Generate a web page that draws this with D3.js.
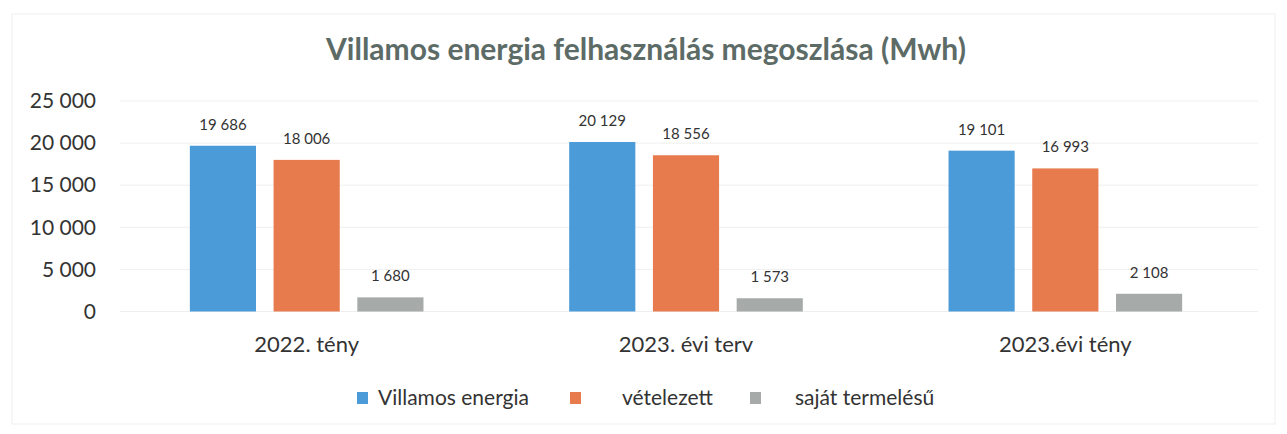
<!DOCTYPE html>
<html>
<head>
<meta charset="utf-8">
<script src="https://cdn.jsdelivr.net/npm/d3@7"></script>
<style>
  body { margin: 0; background: #fff; }
  text { font-family: Lato, "Open Sans", sans-serif; }
</style>
</head>
<body>
<div id="chart"></div>
<script>
const categories = ["2022. tény", "2023. évi terv", "2023.évi tény"];
const seriesNames = ["Villamos energia", "vételezett", "saját termelésű"];
const villamos = [19686, 20129, 19101];
const vetelezett = [18006, 18556, 16993];
const sajat = [1680, 1573, 2108];
const yTicks = [0, 5000, 10000, 15000, 20000, 25000];
const colors = ["#4b9bd8", "#e77b4e", "#a6aaa9"];

const width = 1287;
const height = 434;

const svg = d3.select("#chart")
    .append("svg")
    .attr("width", width)
    .attr("height", height);

// faint frame like the scanned box
svg.append("rect")
    .attr("x", 12).attr("y", 14)
    .attr("width", width - 24).attr("height", height - 24)
    .attr("fill", "none")
    .attr("stroke", "#efefef");

const fmt = v => d3.format(",")(v).replace(/,/g, " ");

const x = d3.scaleBand()
    .domain(categories)
    .range([117, 1255]);

const x1 = d3.scaleBand()
    .domain(seriesNames)
    .range([0, x.bandwidth()])
    .paddingInner(0.21)
    .paddingOuter(0.87);

const y = d3.scaleLinear()
    .domain([0, 25000])
    .range([311.5, 101]);

// gridlines
svg.append("g")
    .selectAll("line")
    .data(yTicks)
    .join("line")
    .attr("x1", 120).attr("x2", 1258)
    .attr("y1", d => y(d)).attr("y2", d => y(d))
    .attr("stroke", "#efefef");

// y axis labels
const yAxis = d3.axisLeft(y).tickValues(yTicks).tickFormat(fmt).tickSize(0).tickPadding(0);
svg.append("g")
    .attr("transform", "translate(96,0)")
    .call(yAxis)
    .call(g => g.select(".domain").remove())
    .selectAll("text")
    .attr("font-size", 21)
    .attr("fill", "#333")
    .style("font-family", "Lato, sans-serif");

// x axis labels
const xAxis = d3.axisBottom(x).tickSize(0).tickPadding(0);
svg.append("g")
    .attr("transform", "translate(0,336)")
    .call(xAxis)
    .call(g => g.select(".domain").remove())
    .selectAll("text")
    .attr("font-size", 22)
    .attr("fill", "#333")
    .style("font-family", "Lato, sans-serif");

const series = [villamos, vetelezett, sajat];
const rows = [];
series.forEach((vals, si) => {
    vals.forEach((v, ci) => rows.push({ cat: categories[ci], name: seriesNames[si], si, v }));
});

svg.append("g")
    .selectAll("rect")
    .data(rows)
    .join("rect")
    .attr("x", d => x(d.cat) + x1(d.name))
    .attr("width", x1.bandwidth())
    .attr("y", d => y(d.v))
    .attr("height", d => y(0) - y(d.v))
    .attr("fill", d => colors[d.si]);

// data labels
svg.append("g")
    .selectAll("text")
    .data(rows)
    .join("text")
    .attr("x", d => x(d.cat) + x1(d.name) + x1.bandwidth() / 2)
    .attr("y", d => y(d.v) - 16)
    .attr("text-anchor", "middle")
    .attr("font-size", 15)
    .attr("fill", "#333")
    .text(d => fmt(d.v));

// title
svg.append("text")
    .attr("x", 646)
    .attr("y", 60)
    .attr("text-anchor", "middle")
    .attr("font-size", 30)
    .attr("font-weight", "bold")
    .attr("fill", "#5d6b67")
    .text("Villamos energia felhasználás megoszlása (Mwh)");

// legend
const legendX = [357, 570, 750];
const legendTextX = [378, 622, 795];
const legend = svg.append("g");
seriesNames.forEach((n, i) => {
    legend.append("rect")
        .attr("x", legendX[i]).attr("y", 392)
        .attr("width", 11).attr("height", 12)
        .attr("fill", colors[i]);
    legend.append("text")
        .attr("x", legendTextX[i]).attr("y", 405)
        .attr("font-size", 21)
        .attr("fill", "#333")
        .text(n);
});
</script>
</body>
</html>
